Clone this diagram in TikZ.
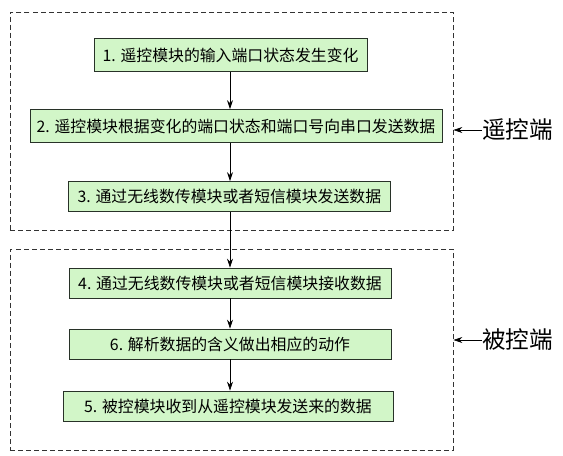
\documentclass[tikz,border=0pt]{standalone}
\usepackage{fontspec}
\newfontfamily\cjk{Noto Sans CJK SC}
\usetikzlibrary{arrows.meta}
\definecolor{boxgreen}{RGB}{210,246,200}
\definecolor{boxline}{RGB}{40,50,40}

\begin{document}
\begin{tikzpicture}[
  stepbox/.style={draw=boxline,fill=boxgreen,rectangle,line width=0.8pt,
    minimum height=1.05cm,inner sep=0pt,font=\cjk\fontsize{15.8}{19}\selectfont},
  region/.style={draw=black!80,dashed,dash pattern=on 5pt off 3pt,line width=0.8pt,
    rectangle,inner sep=0pt},
  side/.style={font=\cjk\fontsize{23.5}{26}\selectfont,inner sep=0pt},
  flow/.style={-{Stealth[length=9pt,width=6pt]},line width=0.7pt}]

\useasboundingbox (0,0) rectangle (19.705,-15.96);

\node[region,minimum width=15.505cm,minimum height=7.63cm] (remote) at (8.1025,-4.235) {};
\node[region,minimum width=15.505cm,minimum height=7.035cm] (local) at (8.1025,-12.2325) {};

\node[stepbox,minimum width=9.56cm,minimum height=1.15cm] (s1) at (8.07,-1.925) {1. 遥控模块的输入端口状态发生变化};
\node[stepbox,minimum width=14.42cm,minimum height=1.15cm] (s2) at (8.26,-4.41) {2. 遥控模块根据变化的端口状态和端口号向串口发送数据};
\node[stepbox,minimum width=11.24cm] (s3) at (8.03,-6.88) {3. 通过无线数传模块或者短信模块发送数据};

\node[stepbox,minimum width=11.27cm] (s4) at (8.05,-9.905) {4. 通过无线数传模块或者短信模块接收数据};
\node[stepbox,minimum width=11.27cm] (s6) at (8.05,-12.04) {6. 解析数据的含义做出相应的动作};
\node[stepbox,minimum width=11.55cm] (s5) at (7.98,-14.21) {5. 被控模块收到从遥控模块发送来的数据};

\draw[flow] (s1.south -| 8.05,0) -- (s2.north -| 8.05,0);
\draw[flow] (s2.south -| 8.05,0) -- (s3.north -| 8.05,0);
\draw[flow] (s3.south -| 8.05,0) -- (s4.north -| 8.05,0);
\draw[flow] (s4.south -| 8.05,0) -- (s6.north -| 8.05,0);
\draw[flow] (s6.south -| 8.05,0) -- (s5.north -| 8.05,0);

\node[side,anchor=west] (ykd) at (16.87,-4.55) {遥控端};
\node[side,anchor=west] (bkd) at (16.87,-11.9) {被控端};

\draw[flow] (ykd.west) -- (ykd.west -| remote.east);
\draw[flow] (bkd.west) -- (bkd.west -| local.east);

\end{tikzpicture}
\end{document}
